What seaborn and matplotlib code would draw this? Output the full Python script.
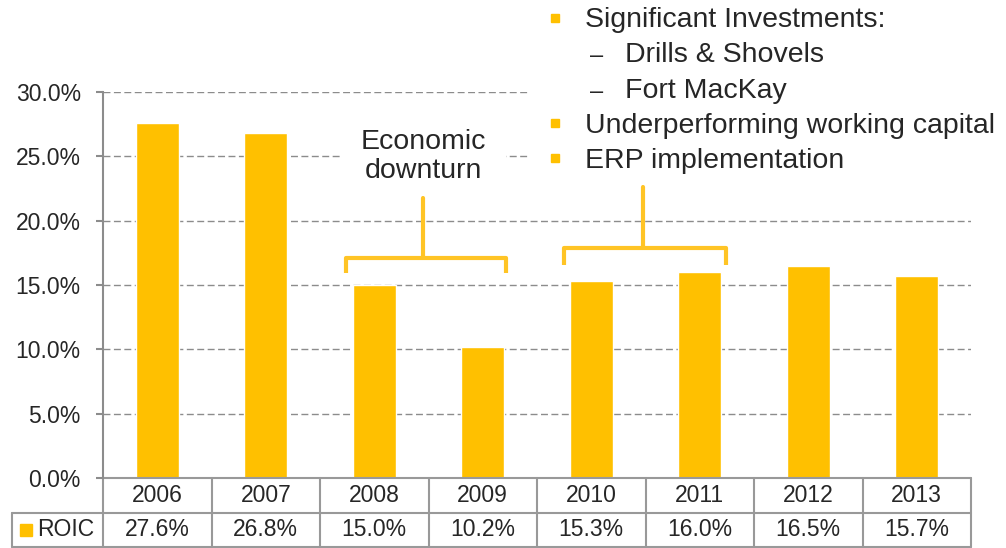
import numpy as np
import pandas as pd
import matplotlib.pyplot as plt
import seaborn as sns
from matplotlib.patches import Rectangle

years = ["2006", "2007", "2008", "2009", "2010", "2011", "2012", "2013"]
roic = [27.6, 26.8, 15.0, 10.2, 15.3, 16.0, 16.5, 15.7]
yticks = [0, 5, 10, 15, 20, 25, 30]
series_name = "ROIC"
downturn_note = "Economic\ndownturn"
bullet_lines = ["Significant Investments:", "Drills & Shovels", "Fort MacKay",
                "Underperforming working capital", "ERP implementation"]
bullet_level = [0, 1, 1, 0, 0]

bar_c = "#FFC000"
brk_c = "#FFC425"
grey = "#8c8c8c"

sns.set_style("white")
plt.rcParams["font.family"] = ["Liberation Sans", "DejaVu Sans"]

fig = plt.figure(figsize=(10.06, 5.48), dpi=100)
ax = fig.add_axes([103/1006, 70/548, 868/1006, 386/548])

df = pd.DataFrame({"year": years, "roic": roic})
sns.barplot(data=df, x="year", y="roic", color=bar_c, saturation=1, width=0.4, ax=ax)

ax.set_xlim(-0.5, 7.5)
ax.set_ylim(0, 30)
ax.set_yticks(yticks)
ax.set_yticklabels([f"{t:.1f}%" for t in yticks])
ax.set_xticks([])
ax.set_xlabel("")
ax.set_ylabel("")
ax.grid(axis="y", color=grey, linestyle=(0, (5, 2.5)), linewidth=1)
ax.set_axisbelow(True)
for s in ["top", "right", "bottom"]:
    ax.spines[s].set_visible(False)
ax.spines["left"].set_color(grey)
ax.spines["left"].set_linewidth(1.5)
ax.tick_params(axis="y", length=5, width=1.5, color=grey, pad=11, labelsize=16.5, left=True)

# data table under the plot
tr = ax.get_xaxis_transform()
r1 = -35/386
r2 = -69/386
xl = -1.34
lc = "#999999"
kw = dict(transform=tr, clip_on=False, color=lc, lw=1.5)
ax.plot([-0.5, 7.5], [0, 0], **kw)
ax.plot([xl, 7.5], [r1, r1], **kw)
ax.plot([xl, 7.5], [r2, r2], **kw)
for k in range(9):
    ax.plot([k - 0.5, k - 0.5], [0, r2], **kw)
ax.plot([xl, xl], [r1, r2], **kw)
for i, (yr, v) in enumerate(zip(years, roic)):
    ax.text(i, r1/2, yr, transform=tr, ha="center", va="center", fontsize=16.5)
    ax.text(i, (r1 + r2)/2, f"{v:.1f}%", transform=tr, ha="center", va="center", fontsize=16.5)
ax.plot([-1.21], [(r1 + r2)/2], marker="s", ms=8, color=bar_c, transform=tr, clip_on=False)
ax.text(-1.108, (r1 + r2)/2, series_name, transform=tr, ha="left", va="center", fontsize=16.5)

# brackets
def bracket(x0, x1, xs, yh, ye, yt):
    ax.plot([x0, x0, x1, x1], [ye, yh, yh, ye], color=brk_c, lw=3,
            solid_joinstyle="round", solid_capstyle="butt", clip_on=False, zorder=4)
    ax.plot([xs, xs], [yh, yt], color=brk_c, lw=3, clip_on=False, zorder=4)

bracket(1.74, 3.21, 2.45, 17.10, 15.93, 21.76)
bracket(3.75, 5.24, 4.48, 17.88, 16.55, 22.62)

ax.text(2.45, 25.0, downturn_note, ha="center", va="center", fontsize=20.5, linespacing=1.12,
        bbox=dict(boxstyle="square,pad=0.7", fc="white", ec="none"), zorder=3)

ax.add_patch(Rectangle((3.417, 22.5), 4.2, 9.0, fc="white", ec="none", zorder=2, clip_on=False))
baselines = [35.04, 32.32, 29.53, 26.81, 24.09]
for txt, lev, yb in zip(bullet_lines, bullet_level, baselines):
    if lev == 0:
        ax.plot([3.666], [yb + 0.75], marker="s", ms=5.8, color=bar_c, clip_on=False, zorder=5)
        ax.text(3.94, yb, txt, ha="left", va="baseline", fontsize=20.5, zorder=5)
    else:
        ax.text(4.05, yb, "–", ha="center", va="baseline", fontsize=17, zorder=5)
        ax.text(4.31, yb, txt, ha="left", va="baseline", fontsize=20.5, zorder=5)

fig.savefig("out.png", dpi=100)
